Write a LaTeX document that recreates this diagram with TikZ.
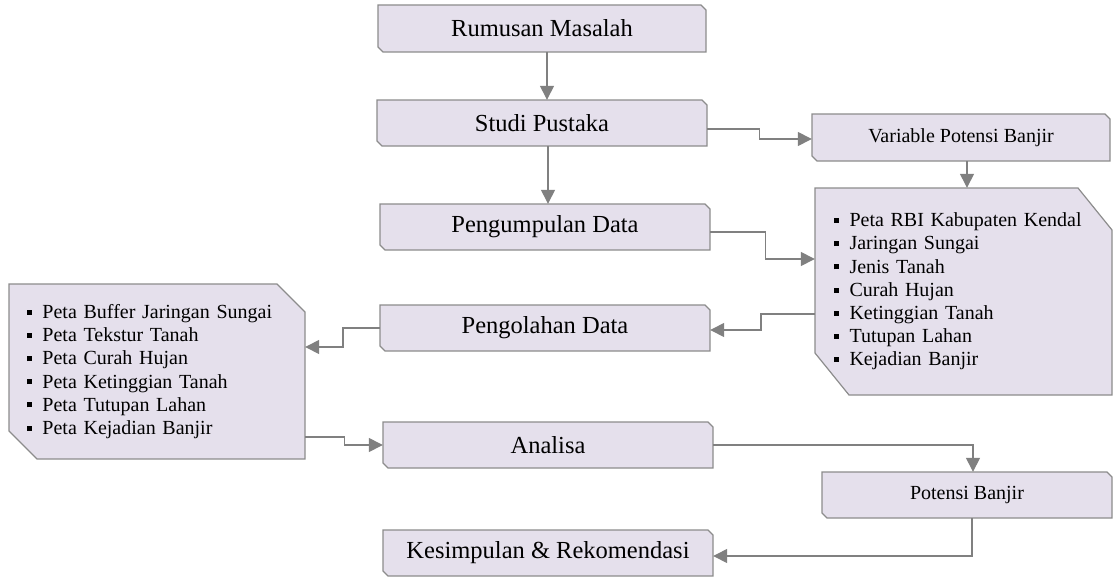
\documentclass[tikz,border=0pt]{standalone}
\usepackage{fontspec}
\setmainfont{Liberation Serif}
\usetikzlibrary{calc,arrows.meta}
\definecolor{boxfill}{RGB}{229,224,236}
\definecolor{boxedge}{RGB}{140,140,140}
\definecolor{arrgray}{RGB}{128,128,128}
\newcommand\sqb{\raisebox{3.8pt}{\rule{5pt}{5pt}}\hspace{10.5pt}}
\newcommand\bigfont{\fontsize{24.5}{29}\selectfont}
\newcommand\smallfont{\fontsize{20}{23.2}\selectfont}
\tikzset{
  boxshape/.style={fill=boxfill,draw=boxedge,line width=1.2pt,line join=miter},
  boxtext/.style={inner sep=0pt,font=\bigfont,text=black},
  listtext/.style={font=\smallfont,align=left},
  arr/.style={draw=arrgray,line width=1.4pt,-{Triangle[length=14pt,width=14pt]},arrgray}
}
% #1 options, #2 name, #3 x1, #4 y1, #5 x2, #6 y2, #7 cut x, #8 cut y, #9 text
\newcommand\cbox[9][]{%
  \path[boxshape] (#3,#4) -- (#5-#7,#4) -- (#5,#4+#8) -- (#5,#6) -- (#3+#7,#6) -- (#3,#6-#8) -- cycle;
  \node[boxtext,minimum width=#5pt-#3pt,minimum height=#6pt-#4pt,#1] (#2) at ({(#3+#5)/2},{(#4+#6)/2}) {#9};}
\begin{document}
\begin{tikzpicture}[x=1pt,y=-1pt]
\useasboundingbox (0,0) rectangle (1114,578);
\cbox{rm}{378}{5}{706}{52}{5}{5}{Rumusan Masalah}
\cbox{sp}{377}{100}{707}{146}{5}{5}{Studi Pustaka}
\cbox{pd}{380}{204}{710}{250}{5}{5}{Pengumpulan Data}
\cbox{po}{380}{305}{710}{351}{5}{5}{Pengolahan Data}
\cbox{an}{383}{422}{713}{468}{5}{5}{Analisa}
\cbox{ks}{383}{530}{713}{576}{5}{5}{Kesimpulan \& Rekomendasi}
\cbox[font=\smallfont]{vpb}{812}{114}{1110}{161}{5}{5}{Variable Potensi Banjir}
\cbox[font=\smallfont]{pb}{822}{472}{1112}{518}{5}{5}{Potensi Banjir}
\cbox[listtext,inner xsep=19pt,text width=259pt]{data}{815}{188}{1112}{395}{34}{42}{%
\sqb Peta RBI Kabupaten Kendal\\
\sqb Jaringan Sungai\\
\sqb Jenis Tanah\\
\sqb Curah Hujan\\
\sqb Ketinggian Tanah\\
\sqb Tutupan Lahan\\
\sqb Kejadian Banjir}
\cbox[listtext,inner xsep=18pt,text width=260pt]{lst}{9}{284}{305}{459}{28}{28}{%
\sqb Peta Buffer Jaringan Sungai\\
\sqb Peta Tekstur Tanah\\
\sqb Peta Curah Hujan\\
\sqb Peta Ketinggian Tanah\\
\sqb Peta Tutupan Lahan\\
\sqb Peta Kejadian Banjir}
% connectors
\draw[arr] ($(rm.south)+(5,0)$) -- ($(sp.north)+(5,0)$);
\draw[arr] ($(sp.south)+(6,0)$) -- ($(pd.north)+(3,0)$);
\draw[arr] ($(sp.east)+(0,6)$) -- ++(52,0) |- ($(vpb.west)+(0,1.5)$);
\draw[arr] ($(vpb.south)+(6,0)$) coordinate (t1) -- (t1 |- data.north);
\draw[arr] ($(pd.east)+(0,5)$) -- ++(55,0) |- ($(data.west)+(0,-32.5)$);
\draw[arr] ($(data.west)+(0,22.5)$) -- ++(-54,0) |- ($(po.east)+(0,2)$);
\draw[arr] (po.west) -- ++(-37,0) |- ($(lst.east)+(0,-24.5)$);
\draw[arr] ($(lst.east)+(0,65.5)$) -- ++(39,0) |- (an.west);
\draw[arr] (an.east) -| ($(pb.north)+(6,0)$);
\draw[arr] ($(pb.south)+(5,0)$) |- ($(ks.east)+(0,3)$);
\end{tikzpicture}
\end{document}
